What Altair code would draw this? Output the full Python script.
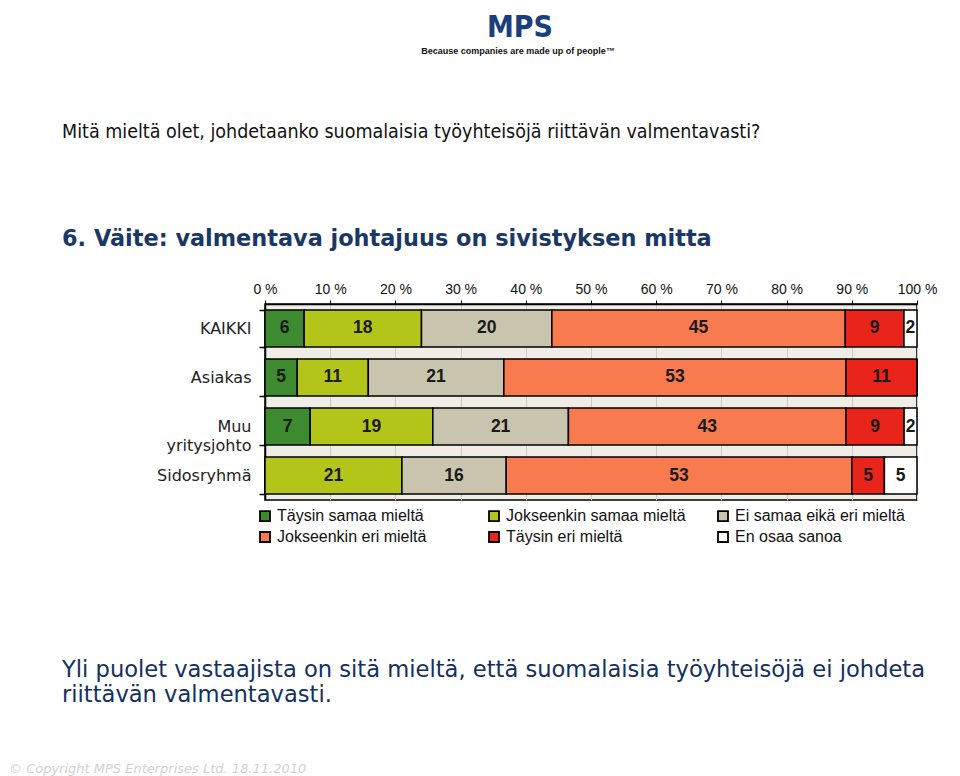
import altair as alt
import pandas as pd

groups = ["KAIKKI", "Asiakas", "Muu yritysjohto", "Sidosryhmä"]
answers = ["Täysin samaa mieltä", "Jokseenkin samaa mieltä", "Ei samaa eikä eri mieltä",
           "Jokseenkin eri mieltä", "Täysin eri mieltä", "En osaa sanoa"]
colors = ["#3e8a30", "#b4c519", "#c9c4ae", "#f77b4e", "#e8241b", "#ffffff"]
values = {
    "KAIKKI": [6, 18, 20, 45, 9, 2],
    "Asiakas": [5, 11, 21, 53, 11, 0],
    "Muu yritysjohto": [7, 19, 21, 43, 9, 2],
    "Sidosryhmä": [0, 21, 16, 53, 5, 5],
}
x_ticks = [0, 0.1, 0.2, 0.3, 0.4, 0.5, 0.6, 0.7, 0.8, 0.9, 1.0]

question = "Mitä mieltä olet, johdetaanko suomalaisia työyhteisöjä riittävän valmentavasti?"
subtitle = "6. Väite: valmentava johtajuus on sivistyksen mitta"
conclusion = ["Yli puolet vastaajista on sitä mieltä, että suomalaisia työyhteisöjä ei johdeta",
              "riittävän valmentavasti."]
footer = "© Copyright MPS Enterprises Ltd.  18.11.2010"
tagline = "Because companies are made up of people™"

rows = []
for g in groups:
    for i, (a, v) in enumerate(zip(answers, values[g])):
        rows.append({"group": g, "answer": a, "order": i, "value": v})
df = pd.DataFrame(rows)

W, H = 652, 196
FONT = "Liberation Sans"

xscale = alt.Scale(domain=[0, 1], nice=False, zero=False)
yscale = alt.Scale(domain=groups, paddingInner=0.245, paddingOuter=0.122)
cscale = alt.Scale(domain=answers, range=colors)

base = alt.Chart(df).transform_stack(
    stack="value", groupby=["group"], sort=[alt.SortField("order")],
    offset="normalize", as_=["x0", "x1"]
).transform_calculate(mid="(datum.x0 + datum.x1) / 2")

bars = base.mark_bar(stroke="black", strokeWidth=1.5).encode(
    x=alt.X("x0:Q", scale=xscale, axis=alt.Axis(
        orient="top", values=x_ticks, labelExpr="round(datum.value*100) + ' %'",
        title=None, grid=True, gridColor="#cfcbc0", gridWidth=1, labelFlush=False,
        domainColor="black", domainWidth=1.5, tickColor="black", tickSize=4,
        labelFontSize=14, labelFont=FONT, labelColor="#111", labelPadding=4)),
    x2="x1:Q",
    y=alt.Y("group:N", scale=yscale, sort=groups, axis=alt.Axis(
        title=None, tickBand="extent", domainColor="black", domainWidth=1.5,
        tickColor="black", tickSize=6, tickWidth=1.5, labelFontSize=16, labelFont="DejaVu Sans",
        labelColor="#222", labelPadding=8, labelLineHeight=19,
        labelExpr="datum.value == 'Muu yritysjohto' ? ['Muu', 'yritysjohto'] : datum.label")),
    color=alt.Color("answer:N", scale=cscale, sort=answers, legend=alt.Legend(
        title=None, orient="none", direction="horizontal", legendX=-8, legendY=204, columns=3,
        columnPadding=28, rowPadding=3, gridAlign="all",
        symbolType="square", symbolSize=100, symbolStrokeColor="black",
        symbolStrokeWidth=1.8, symbolOpacity=1, labelFontSize=16, labelFont=FONT,
        labelColor="#111", labelOffset=4, padding=0, labelLimit=300)),
)

labels = base.transform_filter("datum.value > 0").mark_text(
    fontSize=17.5, font="Liberation Sans Narrow, Liberation Sans", fontWeight="bold",
    color="#1a1a1a", baseline="middle", align="center"
).encode(
    x=alt.X("mid:Q", scale=xscale),
    y=alt.Y("group:N", scale=yscale, sort=groups),
    text=alt.Text("value:Q"),
)

def txt(lines, x, y, **kw):
    d = pd.DataFrame({"t": lines, "i": list(range(len(lines)))})
    return alt.Chart(d).mark_text(align=kw.pop("align", "left"), baseline="alphabetic", **kw).encode(
        x=alt.value(x), y=alt.value(y), text="t:N")

ox, oy = 265, 304  # plot origin in page coords

logo = txt(["MPS"], 520 - ox, 37 - oy, align="center", font="DejaVu Sans Condensed, DejaVu Sans",
           fontSize=30, fontWeight="bold", color="#1c3f7c")
tag = txt([tagline], 518 - ox, 54 - oy, align="center", font=FONT,
          fontSize=9, fontWeight="bold", color="#111")
q = txt([question], 62 - ox, 138 - oy, font="DejaVu Sans Condensed, DejaVu Sans", fontSize=19.5, color="#111")
s = txt([subtitle], 62 - ox, 246 - oy, font="DejaVu Sans", fontSize=22.4, fontWeight="bold", color="#1b3766")
c1 = txt([conclusion[0]], 62 - ox, 677 - oy, font="DejaVu Sans", fontSize=22.6, color="#14305e")
c2 = txt([conclusion[1]], 62 - ox, 702 - oy, font="DejaVu Sans", fontSize=22.6, color="#14305e")
f = txt([footer], 9 - ox, 773 - oy, font="DejaVu Sans", fontSize=13, fontStyle="italic", color="#d2d2d2")

chart = alt.layer(bars, labels, logo, tag, q, s, c1, c2, f).properties(
    width=W, height=H,
    autosize=alt.AutoSizeParams(type="none"),
    padding={"left": ox - 8, "top": oy - 8, "right": 944 - (ox - 8) - W, "bottom": 768 - (oy - 8) - H},
    background="white",
).configure_view(fill="#efede6", stroke="black", strokeWidth=1.5)

chart.save("out.html", embed_options={"renderer": "svg", "actions": False})
